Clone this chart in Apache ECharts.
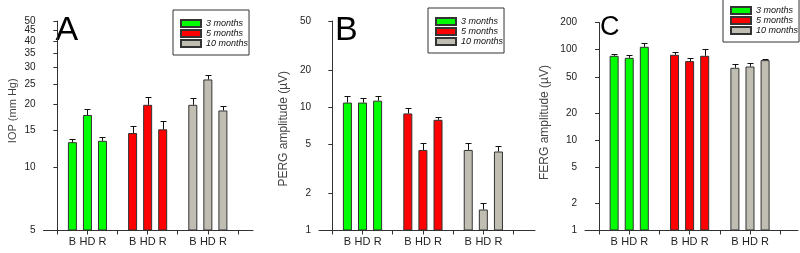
<!DOCTYPE html>
<html><head><meta charset="utf-8">
<script src="https://cdn.jsdelivr.net/npm/echarts@6/dist/echarts.min.js"></script>
<style>html,body{margin:0;padding:0;background:#fff}#c{width:800px;height:253px}</style>
</head><body><div id="c"></div>
<script>
// ---- data ----
const conditions = ['B', 'HD', 'R'];
const ages = ['3 months', '5 months', '10 months'];
const panelLetters = ['A', 'B', 'C'];
const yTitles = ['IOP (mm Hg)', 'PERG amplitude (\u00B5V)', 'FERG amplitude (\u00B5V)'];

// Panel A: IOP (mm Hg), mean and SEM for B, HD, R
const iop3m = [13.2, 17.8, 13.4];
const iop3mSem = [0.5, 1.2, 0.6];
const iop5m = [14.6, 19.9, 15.2];
const iop5mSem = [1.25, 1.8, 1.4];
const iop10m = [19.9, 26.3, 18.7];
const iop10mSem = [1.5, 1.3, 1.0];

// Panel B: PERG amplitude (uV)
const perg3m = [10.9, 10.9, 11.3];
const perg3mSem = [1.4, 0.9, 1.0];
const perg5m = [8.9, 4.5, 7.9];
const perg5mSem = [1.0, 0.6, 0.5];
const perg10m = [4.5, 1.48, 4.37];
const perg10mSem = [0.6, 0.18, 0.5];

// Panel C: FERG amplitude (uV)
const ferg3m = [85.6, 81.3, 107.7];
const ferg3mSem = [4.5, 6.5, 10.6];
const ferg5m = [87.8, 74.8, 85.6];
const ferg5mSem = [7.7, 7.2, 15.0];
const ferg10m = [63.1, 65.2, 76.7];
const ferg10mSem = [6.7, 6.4, 2.6];

// tick labels
const iopTicks = [5, 10, 15, 20, 25, 30, 35, 40, 45, 50];
const pergTicks = [1, 2, 5, 10, 20, 50];
const fergTicks = [1, 2, 5, 10, 20, 50, 100, 200];
const xTickPositions = [0, 2, 4, 6, 8, 10, 12];

// ---- layout/styles ----
const colors = ['#00ff00', '#ff0000', '#c0beb2'];
const FONT = 'Liberation Sans, Arial, sans-serif';
const panels = [
  { means: [iop3m, iop5m, iop10m], sems: [iop3mSem, iop5mSem, iop10mSem], ticks: iopTicks,
    ymin: 5, ymax: 50, grid: { left: 43.5, top: 21, width: 209.5, height: 209.5 }, xmin: -0.92, xmax: 13.0,
    nameGap: 25, nameSize: 11, namePad: [0, 0, 0, 30],
    legend: { left: 173, top: 10 }, letter: { x: 55.5, y: 31, size: 34 } },
  { means: [perg3m, perg5m, perg10m], sems: [perg3mSem, perg5mSem, perg10mSem], ticks: pergTicks,
    ymin: 1, ymax: 50, grid: { left: 319, top: 21, width: 216, height: 209.5 }, xmin: -0.88, xmax: 13.42,
    nameGap: 29, nameSize: 12, namePad: [0, 6, 0, 0],
    legend: { left: 428, top: 8 }, letter: { x: 335, y: 31, size: 34 } },
  { means: [ferg3m, ferg5m, ferg10m], sems: [ferg3mSem, ferg5mSem, ferg10mSem], ticks: fergTicks,
    ymin: 1, ymax: 200, grid: { left: 585, top: 22.5, width: 213, height: 208 }, xmin: -0.93, xmax: 13.18,
    nameGap: 34, nameSize: 12, namePad: [0, 0, 0, 8],
    legend: { left: 723, top: -3 }, letter: { x: 600, y: 27.5, size: 27 } }
];

function pos(ageIdx, condIdx) { return 4 * ageIdx + 1 + condIdx; }
const barPositions = [];
ages.forEach((a, ai) => conditions.forEach((c, ci) => barPositions.push(pos(ai, ci))));

const grids = [], xAxes = [], yAxes = [], labelAxes = [], series = [], legends = [], graphics = [];
const labelStyle = { margin: 8, fontSize: 10, color: '#222', fontFamily: FONT, showMaxLabel: true, showMinLabel: true, hideOverlap: false };

panels.forEach((p, pi) => {
  grids.push(Object.assign({ containLabel: false }, p.grid));
  xAxes.push({
    type: 'value', gridIndex: pi, min: p.xmin, max: p.xmax,
    axisLine: { show: true, onZero: false, lineStyle: { color: '#333', width: 1 } },
    axisTick: { show: true, inside: false, length: 4, customValues: xTickPositions, lineStyle: { color: '#333' } },
    axisLabel: { customValues: barPositions, margin: 6, fontSize: 11, color: '#222', fontFamily: FONT,
      hideOverlap: false, formatter: v => conditions[(Math.round(v) - 1) % 4] },
    splitLine: { show: false }
  });
  const evenTicks = p.ticks.filter((t, i) => i % 2 === 0);
  const oddTicks = p.ticks.filter((t, i) => i % 2 === 1);
  yAxes.push({
    type: 'log', logBase: 10, gridIndex: pi, position: 'left', offset: 0, min: p.ymin, max: p.ymax, startValue: p.ymin,
    axisLine: { show: true, lineStyle: { color: '#333', width: 1 } },
    axisTick: { show: true, inside: false, length: 4, customValues: p.ticks, lineStyle: { color: '#333' } },
    axisLabel: Object.assign({ customValues: evenTicks }, labelStyle),
    minorTick: { show: false }, splitLine: { show: false },
    name: yTitles[pi], nameLocation: 'middle', nameGap: p.nameGap,
    nameTextStyle: { fontSize: p.nameSize, color: '#444', fontFamily: FONT, padding: p.namePad }
  });
  // second label layer (alternate tick labels) so that close labels are not auto-hidden
  labelAxes.push({
    type: 'log', logBase: 10, gridIndex: pi, position: 'left', offset: 0, min: p.ymin, max: p.ymax,
    axisLine: { show: false }, axisTick: { show: false },
    axisLabel: Object.assign({ customValues: oddTicks }, labelStyle),
    minorTick: { show: false }, splitLine: { show: false }
  });
  ages.forEach((age, ai) => {
    series.push({
      name: age, type: 'bar', xAxisIndex: pi, yAxisIndex: pi, barWidth: 9, barGap: '-100%',
      clip: true,
      itemStyle: { color: colors[ai], borderColor: '#333', borderWidth: 1 },
      emphasis: { disabled: true },
      data: conditions.map((c, ci) => [pos(ai, ci), p.means[ai][ci]])
    });
    series.push({
      type: 'custom', xAxisIndex: pi, yAxisIndex: pi, silent: true, z: 5,
      encode: { x: 0, y: 1 },
      data: conditions.map((c, ci) => [pos(ai, ci), p.means[ai][ci], p.sems[ai][ci]]),
      renderItem: function (params, api) {
        const x = api.value(0), m = api.value(1), s = api.value(2);
        const p0 = api.coord([x, m]);
        const p1 = api.coord([x, m + s]);
        const cx = Math.round(p0[0]) + 0.5;
        const ty = Math.round(p1[1]) + 0.5;
        return {
          type: 'group', children: [
            { type: 'line', shape: { x1: cx, y1: p0[1], x2: cx, y2: ty }, style: { stroke: '#111', lineWidth: 1 } },
            { type: 'line', shape: { x1: cx - 3, y1: ty, x2: cx + 3, y2: ty }, style: { stroke: '#111', lineWidth: 1 } }
          ]
        };
      }
    });
  });
  legends.push({
    data: ages, orient: 'vertical', left: p.legend.left, top: p.legend.top,
    itemWidth: 20, itemHeight: 7, itemGap: 1, icon: 'rect',
    padding: [9, 1, 7, 7], borderColor: '#333', borderWidth: 1, backgroundColor: '#fff',
    textStyle: { fontSize: 9, fontStyle: 'italic', color: '#111', fontFamily: FONT, lineHeight: 7 },
    selectedMode: false
  });
  graphics.push({
    type: 'text', x: p.letter.x, y: p.letter.y,
    style: { text: panelLetters[pi], font: p.letter.size + 'px ' + FONT, fill: '#000', verticalAlign: 'middle', align: 'left' }
  });
});

const chart = echarts.init(document.getElementById('c'), null, { renderer: 'canvas' });
chart.setOption({
  animation: false,
  backgroundColor: '#fff',
  grid: grids, xAxis: xAxes, yAxis: yAxes.concat(labelAxes), series: series, legend: legends,
  graphic: graphics
});
</script></body></html>
